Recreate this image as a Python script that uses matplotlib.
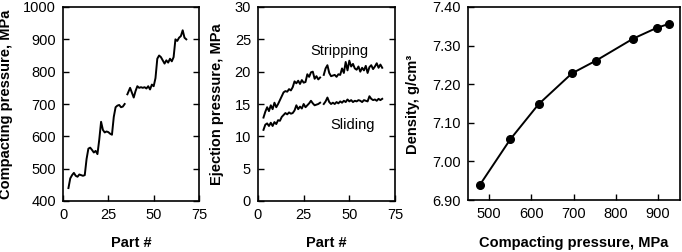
import numpy as np
import matplotlib
matplotlib.use("Agg")
import matplotlib.pyplot as plt

plt.rcParams['font.family'] = ['Liberation Sans', 'DejaVu Sans']

# Panel 1: compacting pressure vs part number (two segments)
part_a = [3, 4, 5, 6, 7, 8, 9, 10, 11, 12, 13, 14, 15, 16, 17, 18, 19, 20, 21, 22,
          23, 24, 25, 26, 27, 28, 29, 30, 31, 32, 33, 34]
comp_a = [440, 470, 480, 487, 478, 475, 482, 480, 478, 480, 530, 562, 565, 558, 550, 555,
          545, 590, 645, 620, 612, 615, 613, 608, 605, 660, 690, 695, 697, 690, 692, 700]
part_b = [35.5, 37, 38, 39, 40, 41, 42, 43, 44, 45, 46, 47, 48, 49, 50, 51, 52, 53, 54,
          55, 56, 57, 58, 59, 60, 61, 62, 63, 64, 65, 66, 67, 68]
comp_b = [730, 750, 735, 720, 740, 755, 750, 752, 750, 752, 748, 755, 745, 760, 755, 780,
          840, 850, 845, 835, 825, 835, 828, 840, 832, 845, 900, 895, 905, 910, 928, 905, 900]

# Panel 2: ejection pressures
ej_part_a = [3, 4, 5, 6, 7, 8, 9, 10, 11, 12, 13, 14, 15, 16, 17, 18, 19, 20, 21, 22,
             23, 24, 25, 26, 27, 28, 29, 30, 31, 32, 33, 34]
strip_a = [12.9, 13.8, 14.5, 13.9, 14.8, 14.2, 15.2, 14.5, 15.0, 15.6, 16.2, 16.8, 17.0,
           16.9, 17.3, 17.1, 17.6, 18.5, 18.2, 18.6, 18.1, 18.7, 18.3, 18.4, 19.6, 19.2,
           19.9, 20.0, 18.9, 19.3, 18.8, 19.1]
slide_a = [11.0, 11.8, 12.0, 11.6, 12.1, 11.6, 12.2, 11.9, 12.5, 12.4, 13.0, 13.3, 13.6,
           13.4, 13.7, 13.5, 13.6, 14.0, 14.8, 14.2, 14.6, 14.3, 15.0, 14.5, 14.8, 15.1,
           15.5, 15.1, 14.8, 14.9, 15.0, 15.2]
ej_part_b = [36, 37, 38, 39, 40, 41, 42, 43, 44, 45, 46, 47, 48, 49, 50, 51, 52, 53, 54,
             55, 56, 57, 58, 59, 60, 61, 62, 63, 64, 65, 66, 67, 68]
strip_b = [19.5, 20.5, 21.0, 19.8, 19.3, 19.4, 19.5, 19.2, 19.6, 19.5, 20.5, 19.8, 21.5,
           20.2, 21.7, 20.8, 21.2, 20.5, 20.3, 20.8, 20.0, 20.6, 20.2, 20.9, 19.8, 20.7,
           21.0, 20.4, 20.8, 21.3, 20.6, 21.1, 20.6]
slide_b = [15.0, 15.4, 16.0, 15.3, 15.0, 15.2, 15.0, 15.3, 15.1, 15.4, 15.2, 15.5, 15.3,
           15.7, 15.4, 15.6, 15.3, 15.5, 15.4, 15.6, 15.5, 15.3, 15.6, 15.5, 15.4, 16.2,
           15.8, 15.6, 15.7, 15.5, 15.8, 15.6, 15.8]

# Panel 3: density vs compacting pressure
dens_p = [478, 550, 617, 696, 753, 841, 897, 925]
density = [6.939, 7.057, 7.148, 7.228, 7.261, 7.318, 7.346, 7.356]

W, H = 682, 252
fig = plt.figure(figsize=(W / 100, H / 100), dpi=100)

def add_ax(l, r, t, b):
    return fig.add_axes([l / W, 1 - b / H, (r - l) / W, (b - t) / H])

fs = 10.5
lw = 1.4

def style(ax, right=True):
    ax.tick_params(direction='in', length=4, width=1, labelsize=fs, pad=5,
                   right=right, top=False, colors='black')
    for s in ax.spines.values():
        s.set_linewidth(1.2)

ax1 = add_ax(63, 199, 7, 201)
ax1.plot(part_a, comp_a, color='black', lw=lw)
ax1.plot(part_b, comp_b, color='black', lw=lw)
ax1.set_xlim(0, 75)
ax1.set_ylim(400, 1000)
ax1.set_xticks([0, 25, 50, 75])
ax1.set_yticks(range(400, 1001, 100))
style(ax1)

ax2 = add_ax(258, 395, 7, 201)
ax2.plot(ej_part_a, strip_a, color='black', lw=lw)
ax2.plot(ej_part_b, strip_b, color='black', lw=lw)
ax2.plot(ej_part_a, slide_a, color='black', lw=lw)
ax2.plot(ej_part_b, slide_b, color='black', lw=lw)
ax2.set_xlim(0, 75)
ax2.set_ylim(0, 30)
ax2.set_xticks([0, 25, 50, 75])
ax2.set_yticks(range(0, 31, 5))
ax2.text(44.5, 23.2, 'Stripping', fontsize=fs, ha='center', va='center')
ax2.text(52, 11.7, 'Sliding', fontsize=fs, ha='center', va='center')
style(ax2)

ax3 = add_ax(468, 680, 7, 200)
ax3.plot(dens_p, density, color='black', lw=lw, marker='o', markersize=5.5)
ax3.set_xlim(450, 952)
ax3.set_ylim(6.90, 7.40)
ax3.set_xticks([500, 600, 700, 800, 900])
ax3.set_yticks([6.90, 7.00, 7.10, 7.20, 7.30, 7.40])
ax3.set_yticklabels(['6.90', '7.00', '7.10', '7.20', '7.30', '7.40'])
style(ax3, right=False)

# axis labels
fig.text(131 / W, 1 - 243 / H, 'Part #', fontsize=fs, fontweight='bold', ha='center', va='center')
fig.text(326 / W, 1 - 243 / H, 'Part #', fontsize=fs, fontweight='bold', ha='center', va='center')
fig.text(574 / W, 1 - 243 / H, 'Compacting pressure, MPa', fontsize=fs, fontweight='bold',
         ha='center', va='center')
fig.text(6 / W, 1 - 104 / H, 'Compacting pressure, MPa', fontsize=fs, fontweight='bold',
         ha='center', va='center', rotation=90)
fig.text(217 / W, 1 - 104 / H, 'Ejection pressure, MPa', fontsize=fs, fontweight='bold',
         ha='center', va='center', rotation=90)
fig.text(413 / W, 1 - 104 / H, 'Density, g/cm³', fontsize=fs, fontweight='bold',
         ha='center', va='center', rotation=90)

fig.savefig('out.png', dpi=100)
